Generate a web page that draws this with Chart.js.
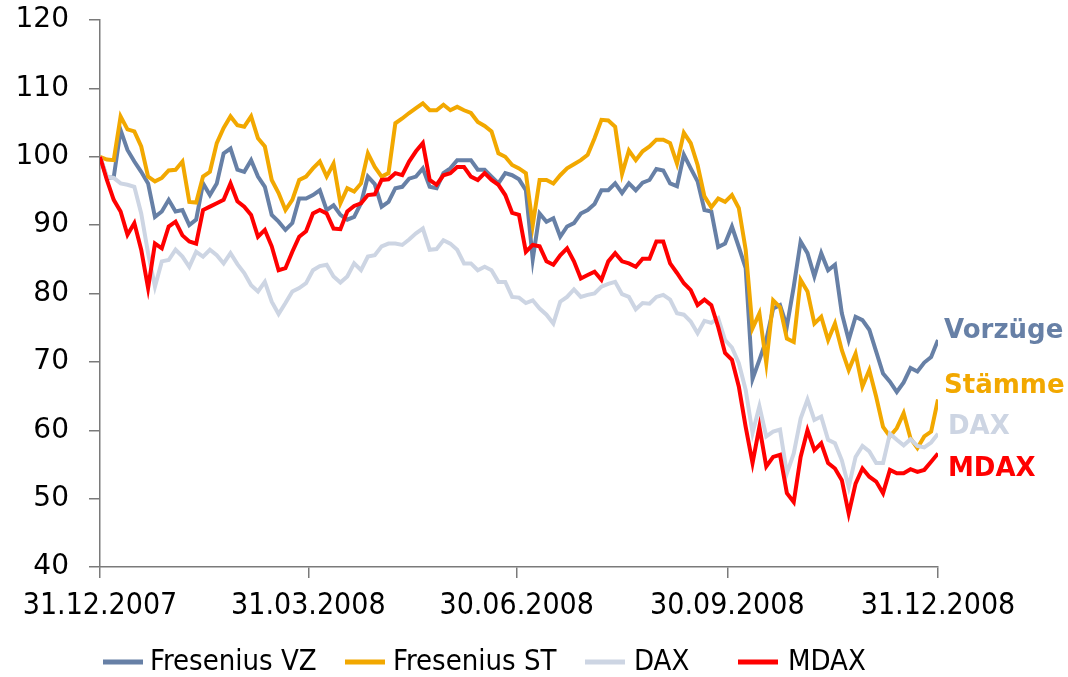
<!DOCTYPE html>
<html>
<head>
<meta charset="utf-8">
<script src="https://cdn.jsdelivr.net/npm/chart.js@4.4.1/dist/chart.umd.min.js"></script>
<style>
  html, body { margin: 0; padding: 0; background: #fff; }
  #wrap { width: 1068px; height: 677px; }
</style>
</head>
<body>
<div id="wrap"><canvas id="chart" width="1068" height="677"></canvas></div>
<script>
(function () {
  'use strict';

  // days since 31.12.2007 (sampled every 3 days)
  var days = [0,3,6,9,12,15,18,21,24,27,30,33,36,39,42,45,48,51,54,57,
    60,63,66,69,72,75,78,81,84,87,90,93,96,99,102,105,108,111,114,117,
    120,123,126,129,132,135,138,141,144,147,150,153,156,159,162,165,168,171,174,177,
    180,183,186,189,192,195,198,201,204,207,210,213,216,219,222,225,228,231,234,237,
    240,243,246,249,252,255,258,261,264,267,270,273,276,279,282,285,288,291,294,297,
    300,303,306,309,312,315,318,321,324,327,330,333,336,339,342,345,348,351,354,357,
    360,363,366];

  var tickDays = [0, 91, 182, 274, 366];
  var tickLabels = ['31.12.2007', '31.03.2008', '30.06.2008', '30.09.2008', '31.12.2008'];

  var seriesNames = ['Fresenius VZ', 'Fresenius ST', 'DAX', 'MDAX'];
  var endNames = ['Vorzüge', 'Stämme', 'DAX', 'MDAX'];
  var COLORS = ['#6780a6', '#f2a800', '#cdd5e3', '#ff0000'];

  var vz = [100,96.9,97,103.9,101,99.3,97.8,96.1,91.2,92,
    93.7,92,92.2,90,90.8,96.1,94.4,96.1,100.5,101.2,
    98.1,97.8,99.5,97.1,95.6,91.5,90.5,89.3,90.3,93.9,
    93.9,94.4,95.1,92.2,92.9,91.5,90.8,91.2,93.2,97.1,
    96,92.7,93.4,95.4,95.6,96.8,97.1,98.3,95.6,95.4,
    97.6,98.3,99.5,99.5,99.5,98.1,98.1,97.1,96.1,97.6,
    97.3,96.7,95.1,85,91.7,90.5,91,88.3,89.8,90.3,
    91.7,92.2,93.1,95.1,95.1,96.1,94.7,96.1,95.1,96.2,
    96.6,98.2,98,96.1,95.7,100.3,98.3,96.4,92.2,92,
    86.8,87.3,89.8,86.8,83.7,67.5,70.3,73.2,77.8,78.3,
    75.2,81,87.6,85.9,82.5,85.9,83.4,84.2,77.1,73.2,
    76.6,76.1,74.7,71.5,68.3,67.1,65.6,67,69.1,68.6,
    69.9,70.7,73.2];

  var st = [100,99.6,99.5,105.9,104,103.7,101.5,97.1,96.4,96.9,
    98,98.1,99.3,93.4,93.3,97.1,97.8,102,104.2,105.9,
    104.6,104.4,105.9,102.7,101.5,96.6,94.7,92.2,93.7,96.6,
    97.1,98.3,99.3,97.1,99,93.2,95.4,94.9,96.1,100.5,
    98.5,97.1,97.6,104.9,105.6,106.4,107.1,107.8,106.8,106.8,
    107.6,106.8,107.3,106.8,106.4,105.1,104.5,103.7,100.5,100,
    98.8,98.3,97.6,90,96.6,96.6,96.1,97.3,98.3,98.9,
    99.5,100.3,102.7,105.4,105.3,104.4,97.5,100.9,99.5,100.8,
    101.5,102.5,102.5,102,99,103.5,102,98.8,94.2,92.6,
    93.9,93.4,94.4,92.5,86.4,74.9,77.1,69.8,79,78,
    73.4,72.9,82,80.3,75.6,76.6,73.2,75.6,71.7,68.8,
    71.2,66.4,68.8,64.9,60.5,59.1,60.3,62.5,58.8,57.4,
    59.1,59.8,64.5];

  var dax = [100,97.1,96.9,96.1,95.9,95.6,91.7,85.9,81,84.7,
    84.9,86.4,85.4,83.9,86.1,85.4,86.4,85.6,84.4,85.9,
    84.3,83,81.2,80.3,81.7,78.8,77,78.6,80.3,80.8,
    81.5,83.4,84,84.2,82.5,81.6,82.5,84.4,83.4,85.4,
    85.6,86.9,87.3,87.3,87.1,87.9,88.8,89.5,86.4,86.5,
    87.8,87.3,86.4,84.4,84.4,83.4,83.9,83.4,81.7,81.7,
    79.5,79.4,78.6,79,77.8,76.9,75.6,78.8,79.5,80.6,
    79.5,79.8,80,81,81.4,81.7,79.9,79.5,77.7,78.6,
    78.5,79.5,79.8,79.1,77.1,76.9,75.9,74.2,76,75.7,
    76.4,73.2,72.1,69.8,65.9,59.6,63.5,59.1,59.8,60.1,
    53.7,56.6,61.7,64.5,61.5,62,58.6,58.1,55.6,51.7,
    56.1,57.7,56.9,55.2,55.2,59.5,58.6,57.8,58.7,57.7,
    57.5,58.2,59.5];

  var mdax = [100,96.6,93.7,92,88.6,90.3,86.4,80.8,87.3,86.6,
    89.8,90.5,88.5,87.6,87.3,92.2,92.7,93.2,93.7,96.1,
    93.5,92.7,91.5,88.3,89.3,86.9,83.4,83.7,86.1,88.3,
    89.1,91.7,92.2,91.7,89.5,89.4,92,92.8,93.2,94.4,
    94.5,96.6,96.7,97.6,97.3,99.3,100.8,102,96.6,95.9,
    97.3,97.6,98.5,98.5,97.1,96.6,97.6,96.6,95.9,94.4,
    91.8,91.5,86.1,87.1,86.9,84.7,84.2,85.6,86.6,84.7,
    82.2,82.7,83.2,82,84.7,85.9,84.7,84.4,83.9,85.1,
    85.1,87.6,87.6,84.4,83,81.5,80.5,78.3,79.1,78.3,
    75.1,71.3,70.3,66.4,60.5,55.2,60.5,54.7,56.1,56.4,
    50.8,49.5,56.1,60,57.1,58.1,55.2,54.4,52.7,47.8,
    52.2,54.4,53.2,52.5,50.8,54.2,53.7,53.7,54.3,53.9,
    54.2,55.4,56.6];

  var allSeries = [vz, st, dax, mdax];
  var FONT = 'DejaVu Sans';
  var FONT_COND = "'DejaVu Sans Condensed', 'Liberation Sans Narrow', 'DejaVu Sans'";

  function points(values) {
    return days.map(function (d, i) { return { x: d, y: values[i] }; });
  }

  // labels at the right end of the lines
  var endLabels = {
    id: 'endLabels',
    afterDatasetsDraw: function (chart) {
      var ctx = chart.ctx, y = chart.scales.y;
      var at = [[944, 74.5], [944, 66.5], [948, 60.5], [948, 54.3]];
      ctx.save();
      ctx.font = 'bold 26px ' + FONT;
      ctx.textBaseline = 'middle';
      ctx.textAlign = 'left';
      endNames.forEach(function (n, i) {
        ctx.fillStyle = COLORS[i];
        ctx.fillText(n, at[i][0], y.getPixelForValue(at[i][1]));
      });
      ctx.restore();
    }
  };

  // legend below the axis
  var lineLegend = {
    id: 'lineLegend',
    afterDraw: function (chart) {
      var ctx = chart.ctx;
      var sx = [103, 345, 585, 738], tx = [150, 393, 634, 788], cy = 662;
      ctx.save();
      ctx.font = '29px ' + FONT_COND;
      ctx.textBaseline = 'middle';
      ctx.textAlign = 'left';
      seriesNames.forEach(function (n, i) {
        ctx.fillStyle = COLORS[i];
        ctx.fillRect(sx[i], cy - 2.5, 40, 5);
        ctx.fillStyle = '#000';
        ctx.fillText(n, tx[i], cy);
      });
      ctx.restore();
    }
  };

  new Chart(document.getElementById('chart').getContext('2d'), {
    type: 'line',
    data: {
      datasets: allSeries.map(function (s, i) {
        return {
          label: seriesNames[i],
          data: points(s),
          borderColor: COLORS[i],
          backgroundColor: COLORS[i],
          borderWidth: 4,
          pointRadius: 0,
          tension: 0,
          fill: false,
          order: 4 - i
        };
      })
    },
    options: {
      responsive: false,
      animation: false,
      layout: { padding: { top: 20, right: 130, bottom: 0, left: 0 } },
      plugins: { legend: { display: false }, tooltip: { enabled: false } },
      scales: {
        x: {
          type: 'linear', min: 0, max: 366,
          afterBuildTicks: function (s) { s.ticks = tickDays.map(function (v) { return { value: v }; }); },
          afterFit: function (s) { s.height = 110; s.paddingLeft = 0; s.paddingRight = 0; },
          grid: { drawOnChartArea: false, drawTicks: true, tickLength: 11, color: '#7a7a7a', lineWidth: 1.5 },
          border: { display: true, color: '#7a7a7a', width: 1.5 },
          ticks: {
            autoSkip: false, maxRotation: 0, padding: 10, color: '#000',
            font: { family: FONT_COND, size: 30 },
            callback: function (v, i) { return tickLabels[i]; }
          }
        },
        y: {
          min: 40, max: 120,
          afterFit: function (s) { s.width = 100; s.paddingTop = 0; s.paddingBottom = 0; },
          grid: { drawOnChartArea: false, drawTicks: true, tickLength: 11, color: '#7a7a7a', lineWidth: 1.5 },
          border: { display: true, color: '#7a7a7a', width: 1.5 },
          ticks: { stepSize: 10, padding: 20, color: '#000', font: { family: FONT, size: 28 } }
        }
      }
    },
    plugins: [endLabels, lineLegend]
  });
})();
</script>
</body>
</html>
